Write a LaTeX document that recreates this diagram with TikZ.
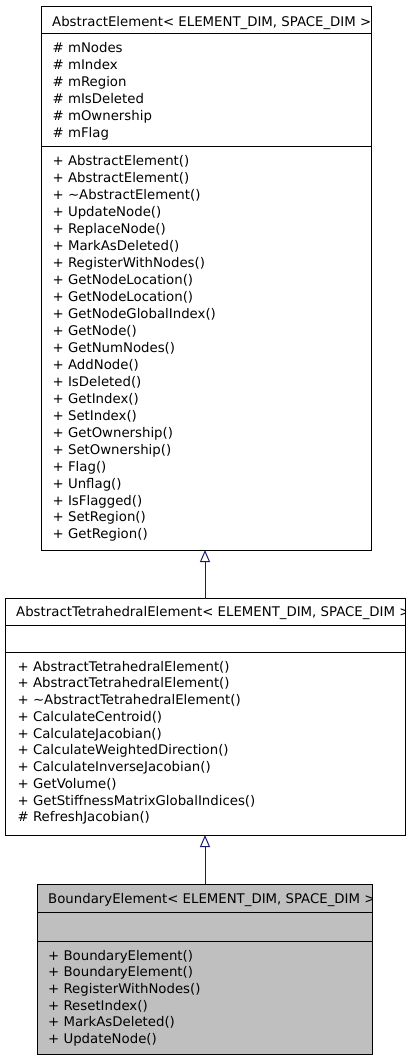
\documentclass[tikz,border=0pt]{standalone}
\usepackage{fontspec}
\setmainfont{DejaVu Sans}
\usetikzlibrary{arrows.meta}
\definecolor{edgeblue}{HTML}{191970}
\definecolor{boxgray}{HTML}{BFBFBF}
\begin{document}
\begin{tikzpicture}[x=1pt,y=-1pt,
  umlbox/.style={draw=black,line width=1pt,rectangle,inner sep=0pt,outer sep=0pt},
  txt/.style={anchor=base west,inner sep=0pt,font=\fontsize{13.3}{16}\selectfont},
  sep/.style={line width=1pt},
  inh/.style={draw=edgeblue,line width=1pt,-{Triangle[open,length=12pt,width=10pt,fill=white]}}]
\useasboundingbox (0,0) rectangle (411,1059);
% Box 1
\node[umlbox,minimum width=329.5pt,minimum height=543pt] (b1) at (206.25,278.5) {};
\draw[sep] (41.5,34) -- (371,34);
\draw[sep] (41.5,147) -- (371,147);
\node[txt] (t1) at (52,26.5) {AbstractElement< ELEMENT\_DIM, SPACE\_DIM >};
\foreach \s [count=\i from 0] in {mNodes,mIndex,mRegion,mIsDeleted,mOwnership,mFlag}
  \node[txt] (a1-\i) at (52.5,53+16.95*\i) {\# \s};
\foreach \s [count=\i from 0] in {AbstractElement(),AbstractElement(),\textasciitilde AbstractElement(),UpdateNode(),ReplaceNode(),MarkAsDeleted(),RegisterWithNodes(),GetNodeLocation(),GetNodeLocation(),GetNodeGlobalIndex(),GetNode(),GetNumNodes(),AddNode(),IsDeleted(),GetIndex(),SetIndex(),GetOwnership(),SetOwnership(),Flag(),Unflag(),IsFlagged(),SetRegion(),GetRegion()}
  \node[txt] (m1-\i) at (52.5,166+16.95*\i) {+ \s};
% Box 2
\node[umlbox,minimum width=400pt,minimum height=236.5pt] (b2) at (205,716.75) {};
\draw[sep] (5,625) -- (405,625);
\draw[sep] (5,652) -- (405,652);
\begin{scope}
\clip (5,598) rectangle (405,625);
\node[txt] (t2) at (16,616.5) {AbstractTetrahedralElement< ELEMENT\_DIM, SPACE\_DIM >};
\end{scope}
\foreach \s [count=\i from 0] in {+ AbstractTetrahedralElement(),+ AbstractTetrahedralElement(),+ \textasciitilde AbstractTetrahedralElement(),+ CalculateCentroid(),+ CalculateJacobian(),+ CalculateWeightedDirection(),+ CalculateInverseJacobian(),+ GetVolume(),+ GetStiffnessMatrixGlobalIndices(),\# RefreshJacobian()}
  \node[txt] (m2-\i) at (17.5,671+16.75*\i) {\s};
% Box 3
\node[umlbox,fill=boxgray,minimum width=335pt,minimum height=170pt] (b3) at (205,969) {};
\draw[sep] (37.5,912) -- (372.5,912);
\draw[sep] (37.5,941) -- (372.5,941);
\begin{scope}
\clip (37.5,884) rectangle (372.5,912);
\node[txt] (t3) at (48,903) {BoundaryElement< ELEMENT\_DIM, SPACE\_DIM >};
\end{scope}
\foreach \s [count=\i from 0] in {BoundaryElement(),BoundaryElement(),RegisterWithNodes(),ResetIndex(),MarkAsDeleted(),UpdateNode()}
  \node[txt] (m3-\i) at (48,960+16.7*\i) {+ \s};
% Inheritance
\draw[inh] (b2.north) -- (b2.north |- b1.south);
\draw[inh] (b3.north) -- (b3.north |- b2.south);
\end{tikzpicture}
\end{document}
